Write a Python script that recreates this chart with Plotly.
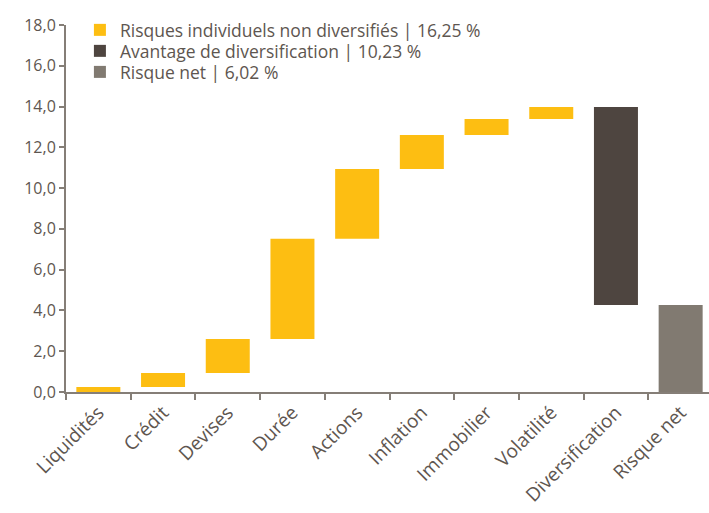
import plotly.graph_objects as go

categories = ["Liquidités", "Crédit", "Devises", "Durée", "Actions", "Inflation",
              "Immobilier", "Volatilité", "Diversification", "Risque net"]
risk_contrib = [0.25, 0.68, 1.67, 4.92, 3.42, 1.66, 0.79, 0.59]
diversification = -9.71
legend_names = ["Risques individuels non diversifiés | 16,25 %",
                "Avantage de diversification | 10,23 %",
                "Risque net | 6,02 %"]
y_ticks = [0, 2, 4, 6, 8, 10, 12, 14, 16, 18]

# cumulative bases
bases = []
acc = 0.0
for v in risk_contrib:
    bases.append(acc)
    acc += v
gross = acc
net = gross + diversification

YELLOW = "#FDBE12"
DARK = "#4E4540"
GREY = "#817A71"
TXT = "#5E5650"
AX = "#857E77"
FONT = "Open Sans"

n = len(risk_contrib)
fig = go.Figure()
fig.add_trace(go.Bar(x=categories[:n], y=risk_contrib, base=bases,
                     marker=dict(color=YELLOW, line=dict(width=0)),
                     name=legend_names[0], width=0.68, legend="legend"))
fig.add_trace(go.Bar(x=[categories[n]], y=[-diversification], base=[net],
                     marker=dict(color=DARK, line=dict(width=0)),
                     name=legend_names[1], width=0.68, legend="legend2"))
fig.add_trace(go.Bar(x=[categories[n + 1]], y=[net], base=[0],
                     marker=dict(color=GREY, line=dict(width=0)),
                     name=legend_names[2], width=0.68, legend="legend3"))

leg_common = dict(x=0.0215, xanchor="left", yanchor="middle",
                  font=dict(family=FONT, size=17.5, color=TXT),
                  bgcolor="rgba(0,0,0,0)", itemwidth=30)

fig.update_layout(
    width=713, height=513,
    margin=dict(l=66, r=0, t=25, b=121),
    plot_bgcolor="white", paper_bgcolor="white",
    barmode="overlay",
    separators=", ",
    font=dict(family=FONT, size=16, color=TXT),
    showlegend=True,
    legend=dict(y=0.9864, **leg_common),
    legend2=dict(y=0.9292, **leg_common),
    legend3=dict(y=0.8719, **leg_common),
    xaxis=dict(categoryorder="array", categoryarray=categories,
               showline=True, linecolor=AX, linewidth=2,
               ticks="outside", tickson="boundaries", ticklen=6, tickwidth=2,
               tickcolor=AX, tickangle=-45, showgrid=False, automargin=False,
               tickfont=dict(family=FONT, size=19, color=TXT)),
    yaxis=dict(range=[0, 18], tickvals=y_ticks, tickformat=".1f",
               showline=True, linecolor=AX, linewidth=2,
               ticks="outside", ticklen=5, tickwidth=2, tickcolor=AX,
               showgrid=False, zeroline=False, automargin=False,
               tickfont=dict(family=FONT, size=16, color=TXT)),
)

fig.write_html("out.html", config={"displayModeBar": False},
               post_script="document.body.style.margin='0';document.body.style.overflow='hidden';")
